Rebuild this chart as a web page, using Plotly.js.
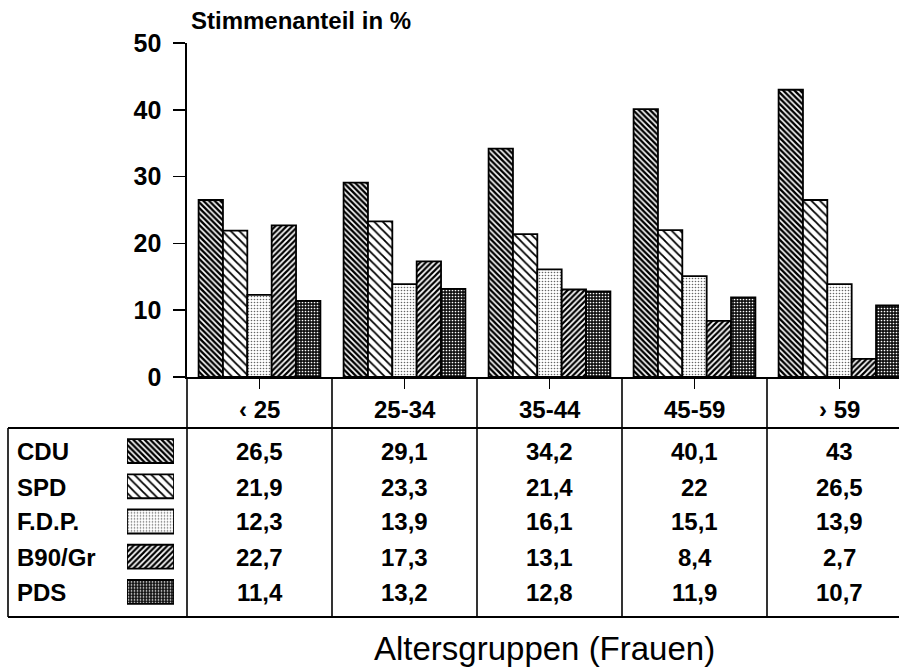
<!DOCTYPE html>
<html><head><meta charset="utf-8">
<script src="https://cdn.plot.ly/plotly-3.0.1.min.js"></script>
<style>body{margin:0;background:#fff}#chart{width:899px;height:667px}</style>
</head><body><div id="chart"></div>
<script>
// ---- data ----
const ageGroups = ['‹ 25', '25-34', '35-44', '45-59', '› 59'];
const parties = ['CDU', 'SPD', 'F.D.P.', 'B90/Gr', 'PDS'];
const cdu = [26.5, 29.1, 34.2, 40.1, 43];
const spd = [21.9, 23.3, 21.4, 22, 26.5];
const fdp = [12.3, 13.9, 16.1, 15.1, 13.9];
const b90 = [22.7, 17.3, 13.1, 8.4, 2.7];
const pds = [11.4, 13.2, 12.8, 11.9, 10.7];
const yTicks = [0, 10, 20, 30, 40, 50];
const yTitle = 'Stimmenanteil in %';
const xTitle = 'Altersgruppen (Frauen)';

// ---- styling ----
const W = 899, H = 667;
const px = x => x / W;
const py = y => 1 - y / H;
const FONT = 'Liberation Sans, Arial, Helvetica, sans-serif';
const series = [cdu, spd, fdp, b90, pds];
const patterns = [
  {shape: '\\', fgcolor: '#000', bgcolor: '#fff', size: 4, solidity: 0.6},
  {shape: '\\', fgcolor: '#000', bgcolor: '#fff', size: 6, solidity: 0.3},
  {shape: '.', fgcolor: '#666', bgcolor: '#fff', size: 3, solidity: 0.22},
  {shape: '/', fgcolor: '#000', bgcolor: '#fff', size: 4, solidity: 0.55},
  {shape: '.', fgcolor: '#fff', bgcolor: '#111', size: 3, solidity: 0.25}
];
const rowY = [451, 487, 521, 557, 592];
const fmt = v => String(v).replace('.', ',');

const traces = [];
series.forEach((vals, i) => {
  traces.push({
    type: 'bar', x: ageGroups, y: vals, name: parties[i],
    xaxis: 'x', yaxis: 'y', showlegend: false, hoverinfo: 'skip',
    marker: {color: patterns[i].bgcolor, pattern: patterns[i], line: {color: '#000', width: 1.8}}
  });
});
// legend swatches in the table
series.forEach((vals, i) => {
  traces.push({
    type: 'bar', orientation: 'h', x: [1], y: [i], width: 0.68, offset: -0.34,
    xaxis: 'x2', yaxis: 'y2', showlegend: false, hoverinfo: 'skip',
    marker: {color: patterns[i].bgcolor, pattern: patterns[i], line: {color: '#000', width: 1.8}}
  });
});

const shapes = [];
const line = (x0, y0, x1, y1, w) => ({type: 'line', xref: 'paper', yref: 'paper',
  x0: px(x0), y0: py(y0), x1: px(x1), y1: py(y1), line: {color: '#000', width: w || 1.6}});
for (let k = 0; k < 5; k++) shapes.push(line(187 + 145 * k, 377, 187 + 145 * k, 617));
shapes.push(line(8, 428, W, 428, 2));
shapes.push(line(8, 617, W, 617, 2));
shapes.push(line(8, 428, 8, 617, 1.6));

const annotations = [];
const boldFont = s => ({family: FONT, size: s, color: '#000', weight: 700});
annotations.push({xref: 'paper', yref: 'paper', x: px(189), y: py(21), xanchor: 'left', yanchor: 'middle',
  text: yTitle, showarrow: false, font: boldFont(24)});
annotations.push({xref: 'paper', yref: 'paper', x: px(544), y: py(648), xanchor: 'center', yanchor: 'middle',
  text: xTitle, showarrow: false, font: {family: FONT, size: 33, color: '#000'}});
ageGroups.forEach((g, j) => {
  annotations.push({xref: 'x', yref: 'paper', x: j, y: py(409), xanchor: 'center', yanchor: 'middle',
    text: g, showarrow: false, font: boldFont(24)});
});
parties.forEach((p, i) => {
  annotations.push({xref: 'paper', yref: 'paper', x: px(15), y: py(rowY[i]), xanchor: 'left', yanchor: 'middle',
    text: p, showarrow: false, font: boldFont(24)});
  series[i].forEach((v, j) => {
    annotations.push({xref: 'x', yref: 'paper', x: j, y: py(rowY[i]), xanchor: 'center', yanchor: 'middle',
      text: fmt(v), showarrow: false, font: boldFont(24)});
  });
});

const layout = {
  width: W, height: H, margin: {l: 0, r: 0, t: 0, b: 0},
  paper_bgcolor: '#fff', plot_bgcolor: '#fff',
  barmode: 'group', bargap: 0.16, bargroupgap: 0,
  showlegend: false,
  xaxis: {
    domain: [px(187), 1], type: 'category', categoryorder: 'array', categoryarray: ageGroups,
    range: [-0.5, -0.5 + (W - 187) / 145], tickmode: 'array', tickvals: ageGroups,
    showticklabels: false, ticks: 'outside', ticklen: 10, tickwidth: 1.5, tickcolor: '#000',
    showline: true, linewidth: 2, linecolor: '#000', showgrid: false, zeroline: false, fixedrange: true
  },
  yaxis: {
    domain: [py(377), py(43)], range: [0, 50], tickmode: 'array', tickvals: yTicks,
    ticks: 'outside', ticklen: 12, tickwidth: 1.5, tickcolor: '#000', ticklabelstandoff: 7,
    tickfont: boldFont(25), showline: true, linewidth: 1.6, linecolor: '#000',
    showgrid: false, zeroline: false, fixedrange: true
  },
  xaxis2: {domain: [px(127), px(174)], range: [0, 1], visible: false, anchor: 'y2', fixedrange: true},
  yaxis2: {domain: [py(609.6), py(433.4)], range: [4.5, -0.5], visible: false, anchor: 'x2', fixedrange: true},
  shapes: shapes, annotations: annotations
};

Plotly.newPlot('chart', traces, layout, {staticPlot: true, displayModeBar: false});
</script>
</body></html>
